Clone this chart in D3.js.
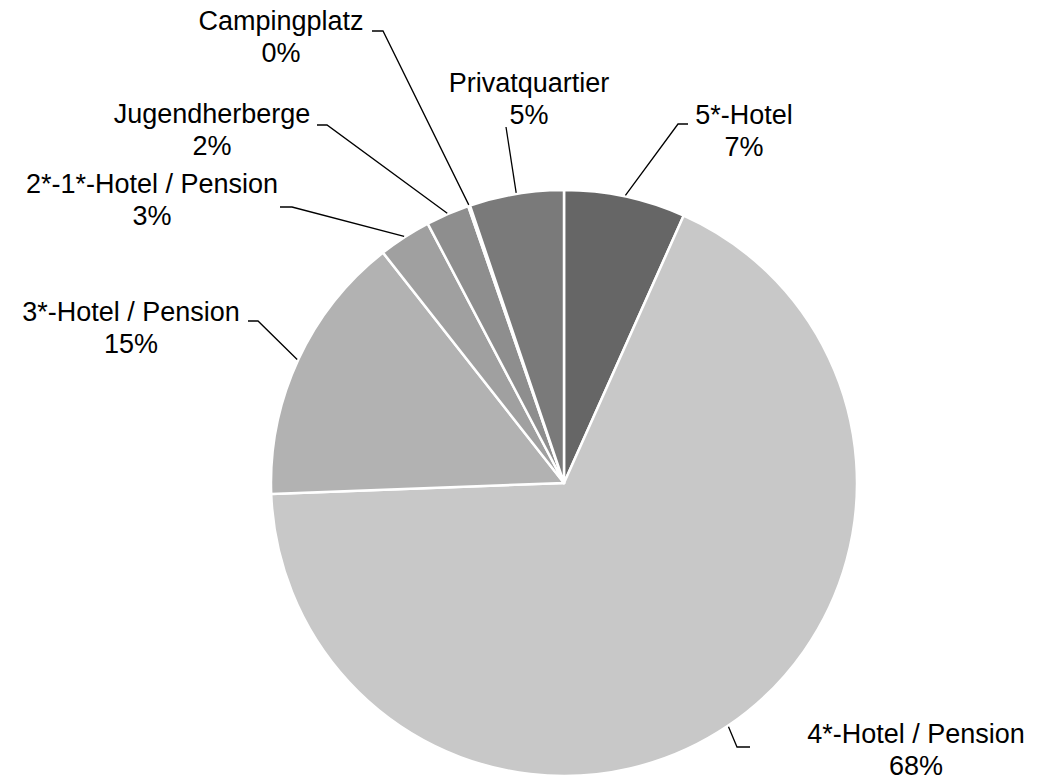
<!DOCTYPE html>
<html>
<head>
<meta charset="utf-8">
<script src="https://cdn.jsdelivr.net/npm/d3@7"></script>
<style>
  body { margin: 0; background: #fff; }
  svg { display: block; }
  text { font-family: "Liberation Sans", Arial, sans-serif; font-size: 27px; fill: #000; }
</style>
</head>
<body>
<svg id="chart"></svg>
<script>
// shares (%), clockwise from 12 o'clock
const categories = [
  "5*-Hotel",
  "4*-Hotel / Pension",
  "3*-Hotel / Pension",
  "2*-1*-Hotel / Pension",
  "Jugendherberge",
  "Campingplatz",
  "Privatquartier",
];
const shares = [6.7, 67.7, 15.0, 2.9, 2.4, 0.1, 5.2];
const greys = ["#666666", "#c8c8c8", "#b2b2b2", "#a0a0a0", "#8e8e8e", "#868686", "#7a7a7a"];

// label layout: text centre, first baseline, elbow of the leader, end of the short horizontal
const labelLayout = [
  { cx: 744, y: 124, elbow: [678, 124], end: [688, 124] },
  { cx: 916, y: 743, elbow: [737, 747], end: [750, 747] },
  { cx: 131, y: 321, elbow: [258, 321], end: [248, 321] },
  { cx: 152, y: 193, elbow: [292, 207], end: [280, 207] },
  { cx: 212, y: 123, elbow: [327, 125], end: [317, 125] },
  { cx: 281, y: 30, elbow: [383, 31], end: [372, 31] },
  { cx: 529, y: 92, elbow: [506, 127], end: [506, 127] },
];

const width = 1042;
const height = 782;
const cx = 564;
const cy = 483;
const radius = 293;

const svg = d3.select("#chart").attr("width", width).attr("height", height);

const data = categories.map((c, i) => ({ name: c, value: shares[i], color: greys[i], layout: labelLayout[i] }));
const total = d3.sum(shares);
const pct = d3.format(".0%");

const pie = d3.pie().sort(null).value((d) => d.value);
const arc = d3.arc().innerRadius(0).outerRadius(radius);
const arcs = pie(data);

const g = svg.append("g").attr("transform", `translate(${cx},${cy})`);

g.selectAll("path.slice")
  .data(arcs)
  .join("path")
  .attr("class", "slice")
  .attr("d", arc)
  .attr("fill", (d) => d.data.color)
  .attr("stroke", "#fff")
  .attr("stroke-width", 2.5)
  .attr("stroke-linejoin", "round");

// leader lines: start on the rim at the middle of each slice
const rimPoint = (d) => {
  const a = (d.startAngle + d.endAngle) / 2;
  return [cx + Math.sin(a) * (radius + 1), cy - Math.cos(a) * (radius + 1)];
};

svg.selectAll("polyline.leader")
  .data(arcs)
  .join("polyline")
  .attr("class", "leader")
  .attr("points", (d) => [rimPoint(d), d.data.layout.elbow, d.data.layout.end].map((p) => p.join(",")).join(" "))
  .attr("fill", "none")
  .attr("stroke", "#000")
  .attr("stroke-width", 1.3);

const labels = svg.selectAll("text.label")
  .data(arcs)
  .join("text")
  .attr("class", "label")
  .attr("text-anchor", "middle")
  .attr("x", (d) => d.data.layout.cx)
  .attr("y", (d) => d.data.layout.y);

labels.append("tspan")
  .attr("x", (d) => d.data.layout.cx)
  .text((d) => d.data.name);

labels.append("tspan")
  .attr("x", (d) => d.data.layout.cx)
  .attr("dy", 32)
  .text((d) => pct(d.data.value / total));
</script>
</body>
</html>
